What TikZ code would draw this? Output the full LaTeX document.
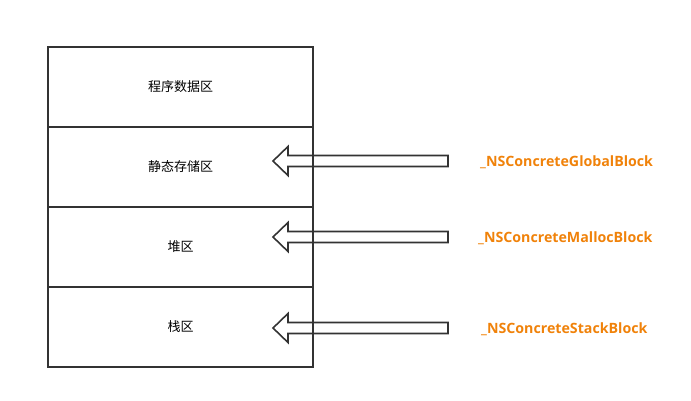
\documentclass[tikz,border=0pt]{standalone}
\usepackage{fontspec}
\setmainfont{Open Sans}
\newfontfamily\cjk{Noto Sans CJK SC}
\usetikzlibrary{positioning}
\definecolor{edgegray}{RGB}{51,51,51}
\definecolor{blockorange}{RGB}{240,130,10}

\begin{document}
\begin{tikzpicture}[x=1pt, y=1pt, font=\cjk\fontsize{13}{15}\selectfont,
  area/.style={draw=edgegray, line width=1.6pt, minimum width=265pt, minimum height=80pt, inner sep=0pt, outer sep=0pt},
  kind/.style={text=blockorange, font=\normalfont\bfseries\fontsize{14.2}{17}\selectfont, anchor=west, inner sep=0pt},
  hollow/.style={draw=edgegray, line width=1.6pt, line join=miter}]
  \useasboundingbox (0,0) rectangle (691,400);

  % memory regions
  \node[area] (prog) at (180.5,313) {程序数据区};
  \node[area, below=0pt of prog] (static) {静态存储区};
  \node[area, below=0pt of static] (heap) {堆区};
  \node[area, below=0pt of heap] (stack) {栈区};

  % block kinds
  \node[kind] (glob) at (480,238) {\_NSConcreteGlobalBlock};
  \node[kind] (mall) at (478,162) {\_NSConcreteMallocBlock};
  \node[kind] (stk) at (481,71) {\_NSConcreteStackBlock};

  % hollow arrows
  \draw[hollow] ([xshift=-32pt,yshift=6.5pt]glob.west) -- ++(-160,0) -- ++(0,9) -- ++(-15,-14.5) -- ++(15,-14.5) -- ++(0,9) -- ++(160,0) -- cycle;
  \draw[hollow] ([xshift=-30pt,yshift=6.5pt]mall.west) -- ++(-160,0) -- ++(0,9) -- ++(-15,-14.5) -- ++(15,-14.5) -- ++(0,9) -- ++(160,0) -- cycle;
  \draw[hollow] ([xshift=-33pt,yshift=6.5pt]stk.west) -- ++(-160,0) -- ++(0,9) -- ++(-15,-14.5) -- ++(15,-14.5) -- ++(0,9) -- ++(160,0) -- cycle;
\end{tikzpicture}
\end{document}
